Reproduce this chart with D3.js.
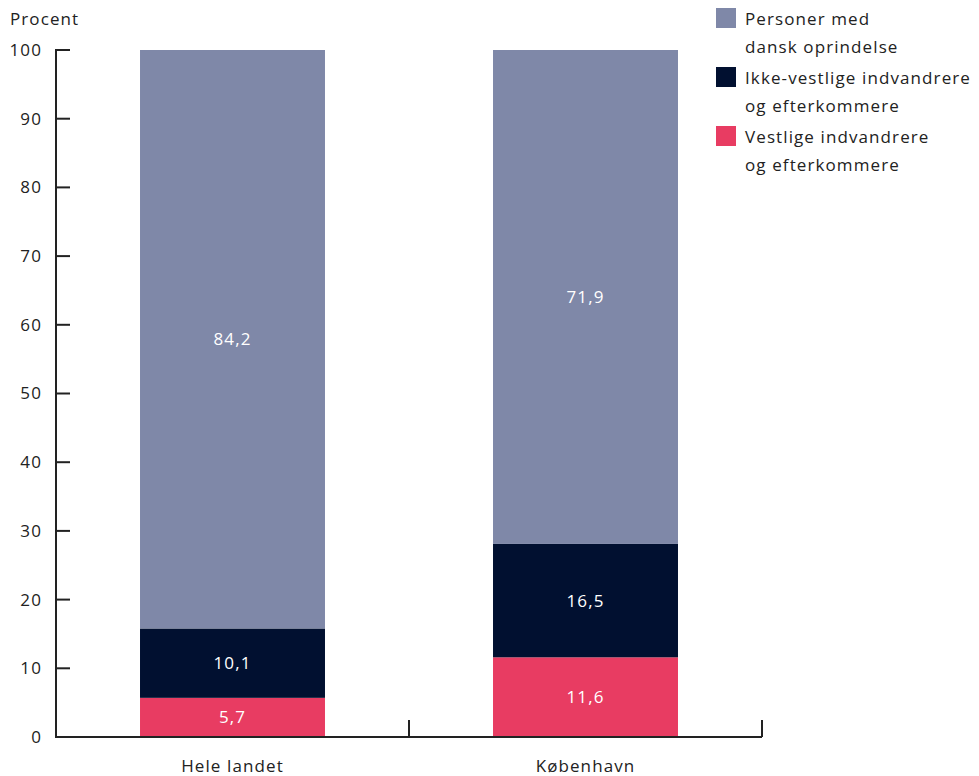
<!DOCTYPE html>
<html><head><meta charset="utf-8">
<script src="https://cdn.jsdelivr.net/npm/d3@7"></script>
<style>body{margin:0;background:#fff}svg{font-family:"Open Sans",Lato,sans-serif;letter-spacing:1.1px}</style>
</head><body><svg id="c" width="979" height="776"></svg>
<script>
const categories = ["Hele landet", "København"];
const seriesNames = ["Vestlige indvandrere og efterkommere", "Ikke-vestlige indvandrere og efterkommere", "Personer med dansk oprindelse"];
const vestlige = [5.7, 11.6];
const ikkeVestlige = [10.1, 16.5];
const dansk = [84.2, 71.9];
const colors = ["#e83c62", "#011030", "#7f88a8"];
const yTicks = [0,10,20,30,40,50,60,70,80,90,100];
const legendItems = [
  {lines:["Personer med","dansk oprindelse"], color:2},
  {lines:["Ikke-vestlige indvandrere","og efterkommere"], color:1},
  {lines:["Vestlige indvandrere","og efterkommere"], color:0}
];

(function(){
const svg = d3.select("#c");
const fs = 17;
const mLeft = 56, mRight = 762, mTop = 50, mBottom = 737;
const x = d3.scaleBand().domain(categories).range([mLeft, mRight]).paddingInner(0.476).paddingOuter(0.238);
const y = d3.scaleLinear().domain([0,100]).range([mBottom, mTop]);

const rows = categories.map((c,i)=>({cat:c, v0:vestlige[i], v1:ikkeVestlige[i], v2:dansk[i]}));
const stack = d3.stack().keys(["v0","v1","v2"])(rows);

const g = svg.append("g");
stack.forEach((layer, li) => {
  layer.forEach(d => {
    g.append("rect")
      .attr("x", x(d.data.cat)).attr("width", x.bandwidth())
      .attr("y", y(d[1])).attr("height", y(d[0]) - y(d[1]))
      .attr("fill", colors[li]);
    g.append("text")
      .attr("x", x(d.data.cat) + x.bandwidth()/2)
      .attr("y", (y(d[0]) + y(d[1]))/2)
      .attr("dy", "0.35em").attr("text-anchor","middle")
      .attr("fill","#fff").attr("font-size", fs)
      .text(String(d.data[layer.key]).replace(".", ","));
  });
});

const ax = svg.append("g").attr("stroke","#222").attr("stroke-width",2);
ax.append("line").attr("x1",mLeft).attr("x2",mLeft).attr("y1",y(100)-1).attr("y2",mBottom+1);
yTicks.forEach(t => {
  ax.append("line").attr("x1",mLeft).attr("x2",mLeft+14).attr("y1",y(t)).attr("y2",y(t));
  svg.append("text").attr("x",42).attr("y",y(t)).attr("dy","0.35em")
    .attr("text-anchor","end").attr("font-size",fs).attr("fill","#222").text(t);
});
ax.append("line").attr("x1",mLeft-1).attr("x2",mRight).attr("y1",mBottom).attr("y2",mBottom);
const step = x.step();
[1,2].forEach(i => {
  const bx = mLeft + i*step;
  ax.append("line").attr("x1",bx).attr("x2",bx).attr("y1",mBottom).attr("y2",mBottom-17);
});
categories.forEach(c => {
  svg.append("text").attr("x", x(c)+x.bandwidth()/2).attr("y", 772)
    .attr("text-anchor","middle").attr("font-size",fs).attr("fill","#222").text(c);
});
svg.append("text").attr("x",10).attr("y",25).attr("font-size",fs).attr("fill","#222").text("Procent");

legendItems.forEach((it, i) => {
  const ly = 8 + i*59;
  svg.append("rect").attr("x",716).attr("y",ly).attr("width",20).attr("height",20).attr("fill",colors[it.color]);
  it.lines.forEach((l, j) => {
    svg.append("text").attr("x",745).attr("y",ly+17+j*28).attr("font-size",fs).attr("fill","#222").text(l);
  });
});
})();
</script></body></html>
